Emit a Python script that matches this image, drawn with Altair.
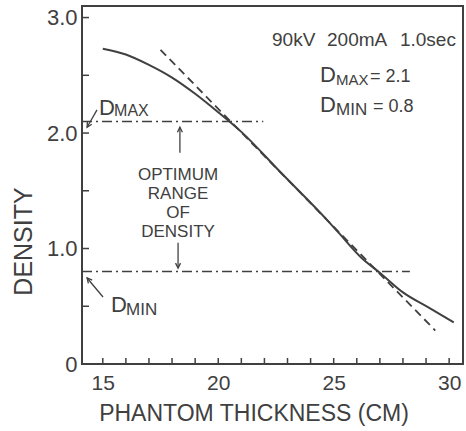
import altair as alt
import pandas as pd

INK = "#404040"
FONT = "Liberation Sans"

# ---- data ----
curve_x = [15.0, 16.0, 17.0, 18.0, 19.0, 20.0, 21.0, 22.7, 24.7, 25.2, 26.2, 27.0, 28.0, 29.1, 30.2]
curve_y = [2.73, 2.68, 2.59, 2.48, 2.34, 2.18, 2.01, 1.66, 1.25, 1.14, 0.92, 0.79, 0.62, 0.49, 0.36]

tangent_x = [17.5, 29.4]
tangent_y = [2.72, 0.29]

ref_levels = [2.1, 0.8]          # D_MAX, D_MIN
ref_start = [14.1, 14.1]
ref_end = [21.95, 28.3]

x_domain = [14.1, 30.6]
y_domain = [0.0, 3.1]
x_label_values = [15, 20, 25, 30]
y_label_values = [0, 1, 2, 3]
x_tick_values = list(range(15, 31))
y_tick_values = [0.5, 1.0, 1.5, 2.0, 2.5, 3.0]

# annotation texts (left aligned)
ann_text = ["90kV", "200mA", "1.0sec",
            "D", "MAX", "= 2.1",
            "D", "MIN", "= 0.8",
            "D", "MAX",
            "D", "MIN"]
ann_x = [22.33, 24.71, 27.87,
         24.41, 25.10, 26.57,
         24.41, 25.10, 26.70,
         14.84, 15.49,
         15.36, 16.01]
ann_y = [2.754, 2.754, 2.754,
         2.442, 2.416, 2.442,
         2.182, 2.156, 2.182,
         2.156, 2.148,
         0.450, 0.424]
ann_size = [19, 19, 19,
            22, 15, 18,
            22, 17, 18,
            22, 16,
            22, 17]

opt_lines = ["OPTIMUM", "RANGE", "OF", "DENSITY"]
opt_x = [18.26, 18.26, 18.26, 18.26]
opt_y = [1.593, 1.429, 1.264, 1.100]

arrow_x = [18.34, 18.26, 14.75, 15.01]
arrow_y = [1.83, 1.05, 2.20, 0.58]
arrow_x2 = [18.34, 18.26, 14.32, 14.32]
arrow_y2 = [2.05, 0.83, 2.05, 0.745]
arrow_angle = [0, 180, 210, 320]

# ---- tables ----
curve_df = pd.DataFrame({"x": curve_x, "y": curve_y})
tan_df = pd.DataFrame({"x": tangent_x, "y": tangent_y})
ref_df = pd.DataFrame({"y": ref_levels, "x0": ref_start, "x1": ref_end})
xt_df = pd.DataFrame({"v": x_tick_values})
yt_df = pd.DataFrame({"v": y_tick_values})
ann_df = pd.DataFrame({"x": ann_x, "y": ann_y, "t": ann_text, "fs": ann_size})
opt_df = pd.DataFrame({"x": opt_x, "y": opt_y, "t": opt_lines})
arr_df = pd.DataFrame({"x": arrow_x, "y": arrow_y, "x2": arrow_x2, "y2": arrow_y2, "a": arrow_angle})

xs = alt.Scale(domain=x_domain, nice=False, zero=False)
ys = alt.Scale(domain=y_domain, nice=False, zero=False)

xaxis = alt.Axis(values=x_label_values, title="PHANTOM THICKNESS (CM)", domain=False, ticks=False,
                 grid=False, labelFontSize=21, labelPadding=8, labelColor=INK, labelFont=FONT,
                 labelFlush=False, titleFontSize=23, titleFontWeight="normal", titleColor=INK,
                 titleFont=FONT, titleX=171.5, titleY=56, titleBaseline="alphabetic")
yaxis = alt.Axis(values=y_label_values, title="DENSITY", domain=False, ticks=False, grid=False,
                 labelExpr="datum.value == 0 ? '0' : format(datum.value, '.1f')",
                 labelFontSize=22, labelPadding=5, labelColor=INK, labelFont=FONT, labelFlush=False,
                 titleFontSize=25, titleFontWeight="normal", titleColor=INK, titleFont=FONT,
                 titleX=-59, titleY=235, titleBaseline="middle", titleAlign="center", titleAngle=270)


def X(f):
    return alt.X(f, type="quantitative", scale=xs, axis=xaxis)


def Y(f):
    return alt.Y(f, type="quantitative", scale=ys, axis=yaxis)


curve = alt.Chart(curve_df).mark_line(interpolate="monotone", color=INK, strokeWidth=2).encode(
    x=X("x"), y=Y("y"))
tangent = alt.Chart(tan_df).mark_line(color=INK, strokeWidth=1.8, strokeDash=[8, 5]).encode(
    x=X("x"), y=Y("y"))
refs = alt.Chart(ref_df).mark_rule(color=INK, strokeWidth=1.5, strokeDash=[10, 4, 2, 4]).encode(
    x=X("x0"), x2="x1", y=Y("y"))
yticks = alt.Chart(yt_df).mark_rule(color=INK, strokeWidth=1.5).encode(
    y=Y("v"), x=alt.value(0), x2=alt.value(7))
xticks = alt.Chart(xt_df).mark_rule(color=INK, strokeWidth=1.5).encode(
    x=X("v"), y=alt.value(358), y2=alt.value(352))
ann = alt.Chart(ann_df).mark_text(align="left", baseline="alphabetic", color=INK, font=FONT).encode(
    x=X("x"), y=Y("y"), text="t:N", size=alt.Size("fs:Q", scale=None))
opt = alt.Chart(opt_df).mark_text(align="center", baseline="alphabetic", color=INK, font=FONT,
                                   fontSize=17).encode(x=X("x"), y=Y("y"), text="t:N")
shafts = alt.Chart(arr_df).mark_rule(color=INK, strokeWidth=1.3).encode(
    x=X("x"), y=Y("y"), x2="x2", y2="y2")
heads = alt.Chart(arr_df).mark_point(shape="M-0.5,1L0,0L0.5,1", filled=False, size=100,
                                     color=INK, strokeWidth=1.3, opacity=1).encode(
    x=X("x2"), y=Y("y2"), angle=alt.Angle("a:Q", scale=None))

chart = alt.layer(refs, tangent, curve, yticks, xticks, ann, opt, shafts, heads).properties(
    width=381, height=358,
    autosize=alt.AutoSizeParams(type="none"),
    padding={"left": 82, "top": 6, "right": 3, "bottom": 67},
    background="white",
).configure(font=FONT).configure_view(stroke=INK, strokeWidth=2)

chart.save("out.html", embed_options={"renderer": "svg", "actions": False})
